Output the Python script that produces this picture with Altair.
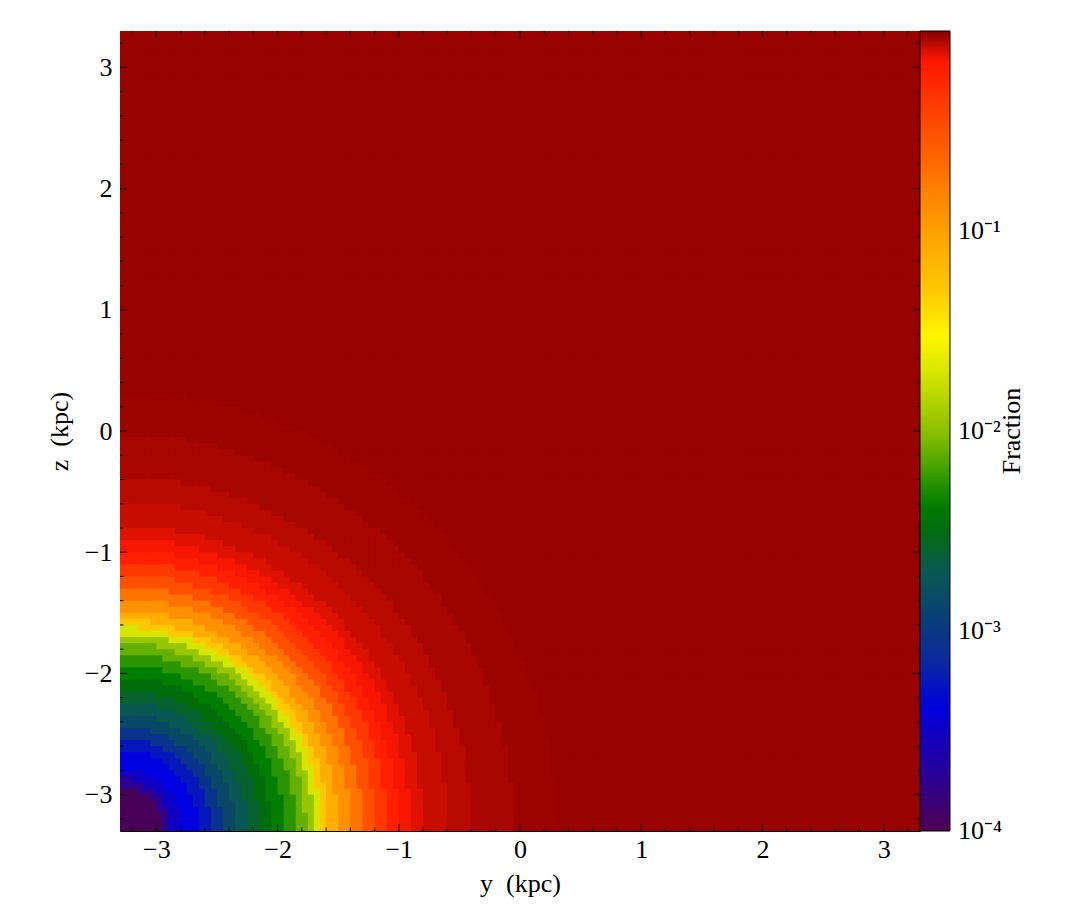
import altair as alt
import numpy as np
import pandas as pd

alt.data_transformers.disable_max_rows()

# ---- data ----
EXTENT = [-3.3, 3.3]          # kpc, both axes
N_CELLS = 132                 # cells per axis (0.05 kpc each)
CENTER = [-3.3, -3.28]        # centre of the radial pattern (y, z)

# radial profile: outer radius of each ring (kpc) and log10(fraction) in it
RING_OUTER = [0.35, 0.42, 0.50, 0.65, 0.75, 0.85, 0.95, 1.05, 1.15, 1.25,
              1.35, 1.45, 1.53, 1.60, 1.66, 1.72, 1.80, 1.90, 2.00, 2.10,
              2.20, 2.30, 2.40, 2.50, 2.70, 2.90, 3.25, 3.60, 99.0]
RING_LOGF = [-3.97, -3.75, -3.50, -3.38, -3.25, -3.05, -2.85, -2.72, -2.60, -2.48,
             -2.36, -2.25, -2.10, -1.95, -1.70, -1.30, -1.10, -0.90, -0.72, -0.50,
             -0.35, -0.20, -0.14, -0.11, -0.08, -0.06, -0.04, -0.025, -0.02]

# colour bar stops: log10(value) -> colour
CMAP_LOG = [-4.0, -3.8, -3.6, -3.38, -3.15, -2.95, -2.7, -2.45, -2.35, -2.2,
            -2.0, -1.75, -1.57, -1.3, -1.0, -0.7, -0.4, -0.15, 0.0]
CMAP_COL = ["#4d0050", "#34008a", "#1a00b0", "#0000e0", "#0a2aa0", "#0a3c78",
            "#0a5a50", "#007000", "#008000", "#40a000", "#8cc000", "#c8dc00",
            "#ffff00", "#ffc800", "#ffa000", "#ff7000", "#ff4000", "#ff1800", "#880000"]
CBAR_TICKS = [1e-3, 1e-2, 1e-1]
CBAR_BOTTOM_LABEL = "10\u207b\u2074"
CBAR_TITLE = "Fraction"

MAJOR_TICKS = [-3, -2, -1, 0, 1, 2, 3]
MINOR_TICKS = [-3.2, -2.8, -2.6, -2.4, -2.2, -1.8, -1.6, -1.4, -1.2, -0.8, -0.6,
               -0.4, -0.2, 0.2, 0.4, 0.6, 0.8, 1.2, 1.4, 1.6, 1.8, 2.2, 2.4,
               2.6, 2.8, 3.2]

# ---- build the cell table ----
edges = np.linspace(EXTENT[0], EXTENT[1], N_CELLS + 1)
lo, hi = edges[:-1], edges[1:]
mid = (lo + hi) / 2
YI, ZI = np.meshgrid(np.arange(N_CELLS), np.arange(N_CELLS))
YI, ZI = YI.ravel(), ZI.ravel()
r = np.hypot(mid[YI] - CENTER[0], mid[ZI] - CENTER[1])
idx = np.searchsorted(np.array(RING_OUTER), r)
frac = 10 ** np.array(RING_LOGF)[idx]
df = pd.DataFrame({
    "y0": np.round(lo[YI], 4), "y1": np.round(hi[YI], 4),
    "z0": np.round(lo[ZI], 4), "z1": np.round(hi[ZI], 4),
    "frac": np.round(frac, 6),
})

PLOT = 800
FONT = "Liberation Serif"
FS = 26

xs = alt.Scale(domain=EXTENT, nice=False, zero=False)
ys = alt.Scale(domain=EXTENT, nice=False, zero=False)
xaxis = alt.Axis(values=MAJOR_TICKS, ticks=False, grid=False, title="y\u00a0\u00a0(kpc)",
                 labelFont=FONT, labelFontSize=FS, titleFont=FONT, titleFontSize=FS,
                 titleFontWeight="normal", labelPadding=5, titlePadding=8,
                 domainColor="black", labelColor="black", titleColor="black")
yaxis = alt.Axis(values=MAJOR_TICKS, ticks=False, grid=False, title="z\u00a0\u00a0(kpc)",
                 labelFont=FONT, labelFontSize=FS, titleFont=FONT, titleFontSize=FS,
                 titleFontWeight="normal", labelPadding=8, titlePadding=12,
                 domainColor="black", labelColor="black", titleColor="black")

cscale = alt.Scale(type="log", domain=[10 ** v for v in CMAP_LOG], range=CMAP_COL,
                   interpolate="rgb", clamp=True, nice=False)

label_expr = ("datum.value < 0.0005 ? '10\u207b\u2074' : datum.value < 0.005 ? '10\u207b\u00b3' : "
              "datum.value < 0.05 ? '10\u207b\u00b2' : '10\u207b\u00b9'")

# cells are drawn slightly overlapping (by ~1 px) so that no hairline seams show
heat = alt.Chart(df).transform_calculate(
    y1o="datum.y1 + 0.01", z1o="datum.z1 + 0.01"
).mark_rect(clip=True).encode(
    x=alt.X("y0:Q", scale=xs, axis=xaxis),
    x2="y1o:Q",
    y=alt.Y("z0:Q", scale=ys, axis=yaxis),
    y2="z1o:Q",
    color=alt.Color("frac:Q", scale=cscale, legend=alt.Legend(
        type="gradient", title=None, values=CBAR_TICKS, labelExpr=label_expr,
        gradientLength=PLOT, gradientThickness=30, offset=0, padding=0,
        gradientStrokeColor="black", gradientStrokeWidth=1,
        labelFont=FONT, labelFontSize=FS, labelColor="black", labelOffset=8,
        labelBaseline="middle", labelOverlap=False)),
)

cbar_title = alt.Chart(pd.DataFrame({"t": [CBAR_TITLE]})).mark_text(
    angle=270, font=FONT, fontSize=FS, color="black", baseline="middle", align="center"
).encode(x=alt.value(PLOT + 92), y=alt.value(PLOT / 2), text="t:N")

cbar_bottom = alt.Chart(pd.DataFrame({"t": [CBAR_BOTTOM_LABEL]})).mark_text(
    font=FONT, fontSize=FS, color="black", baseline="middle", align="left"
).encode(x=alt.value(PLOT + 38), y=alt.value(PLOT), text="t:N")


def xticks(values, length, top):
    a = 0 if top else PLOT
    b = length if top else PLOT - length
    return alt.Chart(pd.DataFrame({"v": values})).mark_rule(color="black", strokeWidth=1).encode(
        x=alt.X("v:Q", scale=xs, axis=xaxis), y=alt.value(a), y2=alt.value(b))


def yticks(values, length, right):
    a = PLOT if right else 0
    b = PLOT - length if right else length
    return alt.Chart(pd.DataFrame({"v": values})).mark_rule(color="black", strokeWidth=1).encode(
        y=alt.Y("v:Q", scale=ys, axis=yaxis), x=alt.value(a), x2=alt.value(b))


layers = [heat]
for side in (False, True):
    layers += [xticks(MAJOR_TICKS, 7, side), xticks(MINOR_TICKS, 3.5, side),
               yticks(MAJOR_TICKS, 7, side), yticks(MINOR_TICKS, 3.5, side)]
layers += [cbar_title, cbar_bottom]

chart = alt.layer(*layers).properties(
    width=PLOT, height=PLOT,
    padding={"left": 38, "top": 22, "right": 5, "bottom": 5},
).configure_view(stroke="black", strokeWidth=1).configure(background="white")

chart.save("out.html", embed_options={"renderer": "svg", "actions": False})
